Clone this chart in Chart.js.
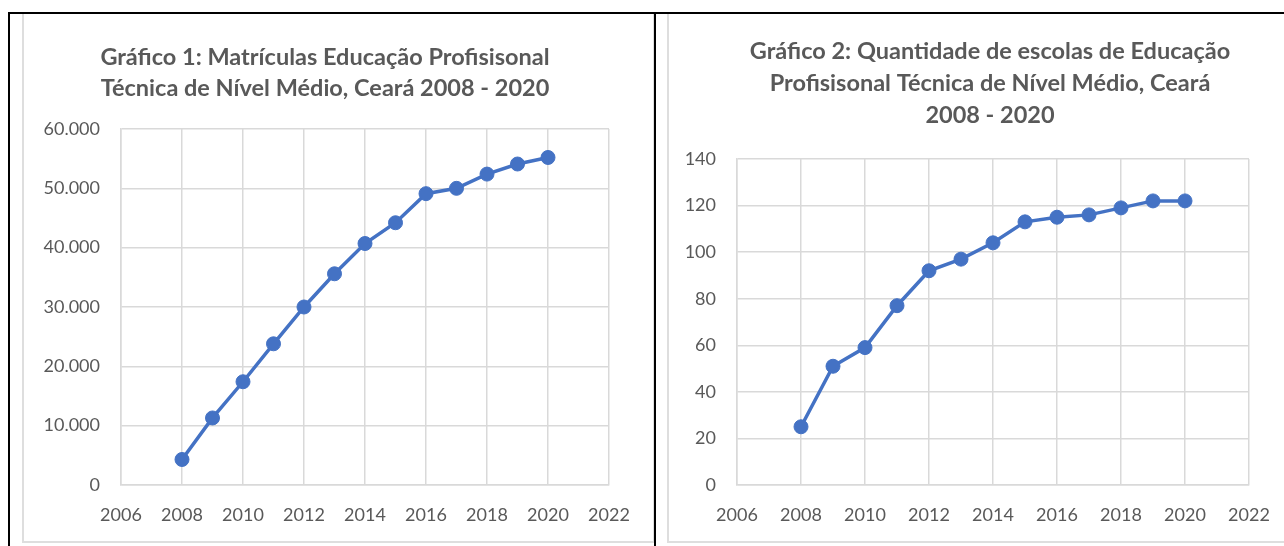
<!DOCTYPE html>
<html>
<head>
<meta charset="utf-8">
<script src="https://cdn.jsdelivr.net/npm/chart.js@4/dist/chart.umd.min.js"></script>
<style>
  html, body { margin:0; padding:0; background:#fff; width:1284px; height:546px; overflow:hidden; }
  .box { position:absolute; box-sizing:border-box; border:2px solid #dedede; background:#fff; }
  .rule { position:absolute; background:#000; z-index:5; }
  canvas { display:block; }
</style>
</head>
<body>
<div class="box" style="left:22px; top:12px; width:633px; height:531px;">
  <canvas id="chartMatriculas" width="629" height="527"></canvas>
</div>
<div class="box" style="left:667px; top:12px; width:640px; height:531px;">
  <canvas id="chartEscolas" width="636" height="527"></canvas>
</div>
<div class="rule" style="left:8px; top:12px; width:1276px; height:2px;"></div>
<div class="rule" style="left:8px; top:12px; width:2px; height:534px;"></div>
<div class="rule" style="left:654px; top:12px; width:2px; height:534px;"></div>

<script>
const years = [2008, 2009, 2010, 2011, 2012, 2013, 2014, 2015, 2016, 2017, 2018, 2019, 2020];
const matriculas = [4300, 11300, 17400, 23800, 30000, 35600, 40700, 44200, 49100, 50000, 52400, 54100, 55200];
const escolas = [25, 51, 59, 77, 92, 97, 104, 113, 115, 116, 119, 122, 122];

const title1 = ["Gráfico 1: Matrículas Educação Profisisonal", "Técnica de Nível Médio, Ceará 2008 - 2020"];
const title2 = ["Gráfico 2: Quantidade de escolas de Educação", "Profisisonal Técnica de Nível Médio, Ceará", "2008 - 2020"];

const COLORS = { line:"#4472C4", grid:"#d9d9d9", text:"#595959" };
const FONT = "Lato";

function fmtThousands(v){ return String(v).replace(/\B(?=(\d{3})+(?!\d))/g, "."); }

function lineChart(id, values, title, o){
  const ctx = document.getElementById(id);
  return new Chart(ctx, {
    type:"line",
    data:{ datasets:[{
      data: years.map((y,i)=>({ x:y, y:values[i] })),
      borderColor:COLORS.line, backgroundColor:COLORS.line, borderWidth:3.5,
      pointRadius:7, pointBackgroundColor:COLORS.line, pointBorderColor:COLORS.line, pointBorderWidth:1,
      tension:0
    }]},
    options:{
      responsive:false, animation:false, devicePixelRatio:1,
      // layout padding also acts as the minimum right gap, so xPadR must exceed padR
      layout:{ padding:{ left:o.padL, right:o.padR, top:0, bottom:0 } },
      plugins:{
        legend:{ display:false }, tooltip:{ enabled:false },
        title:{ display:true, text:title, color:COLORS.text,
          font:{ family:FONT, size:23.5, weight:"bold", lineHeight:o.lh+"px" },
          padding:{ top:o.titleTop, bottom:o.titleBottom } }
      },
      scales:{
        x:{ type:"linear", min:2006, max:2022,
          ticks:{ stepSize:2, color:COLORS.text, font:{ family:FONT, size:18 }, padding:19, maxRotation:0, callback:v=>String(v) },
          grid:{ color:COLORS.grid, lineWidth:1.5, drawTicks:false },
          border:{ color:COLORS.grid, width:1.5 },
          afterFit:s=>{ s.height = 56; s.paddingLeft = 0; s.paddingRight = o.xPadR; } },
        y:{ min:0, max:o.yMax,
          ticks:{ stepSize:o.yStep, color:COLORS.text, font:{ family:FONT, size:18 }, padding:21, callback:o.yFmt },
          grid:{ color:COLORS.grid, lineWidth:1.5, drawTicks:false },
          border:{ color:COLORS.grid, width:1.5 },
          afterFit:s=>{ s.width = o.yWidth; } }
      }
    }
  });
}

lineChart("chartMatriculas", matriculas, title1,
  { padL:0, padR:27, xPadR:44, yWidth:97, lh:31, titleTop:27.5, titleBottom:25.5, yMax:60000, yStep:10000, yFmt:v=>fmtThousands(v) });
lineChart("chartEscolas", escolas, title2,
  { padL:6, padR:0, xPadR:56, yWidth:62, lh:32, titleTop:21, titleBottom:28, yMax:140, yStep:20, yFmt:v=>String(v) });
</script>
</body>
</html>
